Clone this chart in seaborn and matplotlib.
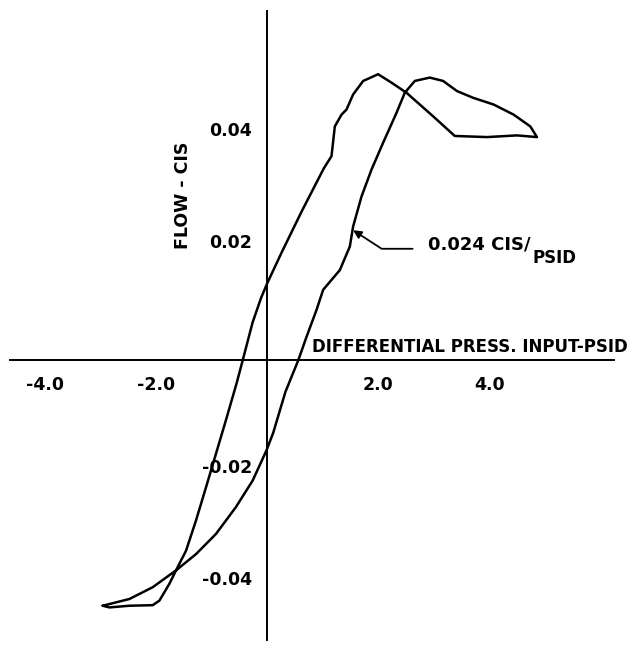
import matplotlib
matplotlib.use("Agg")
import matplotlib.pyplot as plt
import seaborn as sns

# hysteresis loop
# rising branch (left), bottom-left tip -> right tip
press_up = [-2.96, -2.84, -2.48, -2.06, -1.94, -1.76, -1.64, -1.46, -1.28, -1.10,
            -0.92, -0.74, -0.55, -0.44, -0.26, -0.11, 0.0, 0.26, 0.62, 1.02,
            1.16, 1.22, 1.34, 1.43, 1.55, 1.73, 2.00, 2.24, 2.51, 2.99,
            3.38, 3.96, 4.50, 4.86]
flow_up = [-0.0437, -0.0440, -0.0437, -0.0436, -0.0428, -0.0398, -0.0374, -0.0339, -0.0285, -0.0226,
           -0.0166, -0.0106, -0.0041, 0.0, 0.0068, 0.0111, 0.0137, 0.0192, 0.0265, 0.0342,
           0.0364, 0.0417, 0.0438, 0.0447, 0.0474, 0.0498, 0.0510, 0.0495, 0.0477, 0.0435,
           0.0400, 0.0398, 0.0401, 0.0398]
# returning branch (right), right tip -> bottom-left tip
press_down = [4.74, 4.44, 4.08, 3.71, 3.42, 3.17, 2.93, 2.66, 2.48, 2.33,
              2.09, 1.88, 1.70, 1.55, 1.49, 1.31, 1.01, 0.89, 0.71, 0.56,
              0.33, 0.11, -0.01, -0.26, -0.56, -0.92, -1.28, -1.64, -2.06, -2.48,
              -2.96]
flow_down = [0.0417, 0.0438, 0.0456, 0.0468, 0.0480, 0.0498, 0.0504, 0.0498, 0.0477, 0.0441,
             0.0388, 0.0340, 0.0292, 0.0239, 0.0203, 0.0161, 0.0126, 0.0090, 0.0042, 0.0,
             -0.0056, -0.0129, -0.0160, -0.0214, -0.0261, -0.0309, -0.0345, -0.0374, -0.0404, -0.0425,
             -0.0437]

x_ticks = [-4.0, -2.0, 2.0, 4.0]
x_tick_labels = ["-4.0", "-2.0", "2.0", "4.0"]
y_ticks = [-0.04, -0.02, 0.02, 0.04]
y_tick_labels = ["-0.04", "-0.02", "0.02", "0.04"]

press = press_up + press_down
flow = flow_up + flow_down

sns.set_style("white")
plt.rcParams["font.family"] = ["DejaVu Sans"]
plt.rcParams["text.color"] = "black"

fig = plt.figure(figsize=(6.4, 6.49), dpi=100)
ax = fig.add_axes([0.0156, 0.0139, 0.944, 0.9686])

sns.lineplot(x=press, y=flow, sort=False, estimator=None, color="black",
             linewidth=1.8, ax=ax)

ax.set_xlim(-4.63, 6.25)
ax.set_ylim(-0.0498, 0.0622)

# cross-hair axes through the origin
for side in ["top", "right"]:
    ax.spines[side].set_visible(False)
ax.spines["left"].set_position(("data", 0))
ax.spines["bottom"].set_position(("data", 0))
for side in ["left", "bottom"]:
    ax.spines[side].set_color("black")
    ax.spines[side].set_linewidth(1.4)

ax.set_xticks(x_ticks)
ax.set_xticklabels(x_tick_labels)
ax.set_yticks(y_ticks)
ax.set_yticklabels(y_tick_labels)
ax.tick_params(axis="x", direction="out", length=7, width=1.2, color="black",
               labelsize=12.5, labelcolor="black", pad=4)
ax.tick_params(axis="y", direction="out", length=7, width=1.2, color="black",
               labelsize=12.5, labelcolor="black", pad=4)
for lab in ax.get_xticklabels() + ax.get_yticklabels():
    lab.set_fontweight("bold")
for lab in ax.get_yticklabels():
    lab.set_verticalalignment("baseline")

ax.text(0.80, 0.0015, "DIFFERENTIAL PRESS. INPUT-PSID", fontsize=12,
        fontweight="bold", ha="left", va="baseline")
ax.text(-1.51, 0.0295, "FLOW - CIS", fontsize=12.5, fontweight="bold",
        rotation=90, ha="center", va="center")

# slope callout
ax.annotate("", xy=(1.55, 0.0232), xytext=(2.62, 0.0199),
            arrowprops=dict(arrowstyle="-|>", color="black", lw=1.3,
                            mutation_scale=12, shrinkA=0, shrinkB=0,
                            connectionstyle="angle,angleA=0,angleB=-33,rad=0"))
slope = ax.text(2.90, 0.0207, "0.024 CIS/", fontsize=13, fontweight="bold",
                ha="left", va="center")
ax.annotate("PSID", xy=(1, 0), xycoords=slope, xytext=(1, 3),
            textcoords="offset points", fontsize=12, fontweight="bold",
            ha="left", va="top")

plt.savefig("out.png", dpi=100)
plt.close()
